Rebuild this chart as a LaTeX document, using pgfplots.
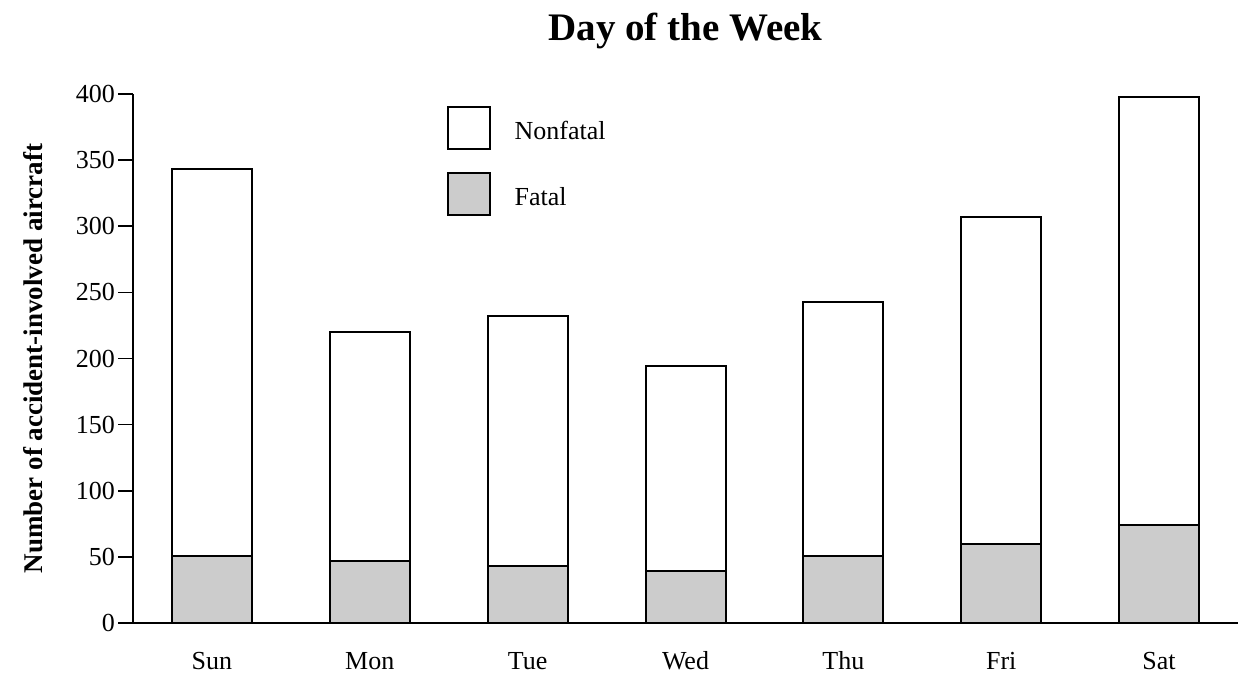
\documentclass[border=0pt]{standalone}
\usepackage{fontspec}
\setmainfont{Liberation Serif}
\usepackage{pgfplots}
\pgfplotsset{compat=1.18}
\definecolor{fatalgray}{HTML}{CCCCCC}
\begin{document}
\begin{tikzpicture}
\begin{axis}[
  scale only axis,
  width=552.5pt, height=264.5pt,
  ybar stacked, bar width=40pt,
  xmin=-0.5, xmax=6.5, ymin=0, ymax=400,
  axis lines*=left,
  axis line style={line width=0.8pt},
  xtick={0,1,2,3,4,5,6},
  xticklabels={Sun,Mon,Tue,Wed,Thu,Fri,Sat},
  x tick style={draw=none},
  ytick={0,50,100,150,200,250,300,350,400},
  y tick style={line width=0.8pt, black},
  tick align=outside, major tick length=7.5pt,
  /pgf/number format/assume math mode=true,
  tick label style={font=\fontsize{13}{15}\selectfont},
  xticklabel style={anchor=base, yshift=-16pt},
  yticklabel style={xshift=2pt},
  ylabel={Number of accident-involved aircraft},
  ylabel style={font=\fontsize{13.5}{15}\selectfont\bfseries, at={(rel axis cs:0,0.5)}, anchor=center, yshift=50pt},
  title={Day of the Week},
  title style={font=\fontsize{19.5}{23}\selectfont\bfseries, at={(0.5,1)}, anchor=base, yshift=20.5pt},
  legend style={draw=none, fill=none, at={(rel axis cs:0.2839,0.978)}, anchor=north west,
    inner sep=0pt, outer sep=0pt, row sep=11.3pt, column sep=12pt,
    font=\fontsize{13}{15}\selectfont, nodes={inner sep=0pt, anchor=west}},
  legend cell align=left,
  reverse legend,
  legend image code/.code={\draw[#1, line width=1pt] (0pt,-8.5pt) rectangle (21pt,12.5pt);},
]
\addplot[draw=black, line width=1pt, fill=fatalgray] coordinates {(0,51) (1,47) (2,43) (3,39) (4,51) (5,60) (6,74)};
\addlegendentry{Fatal}
\addplot[draw=black, line width=1pt, fill=white] coordinates {(0,292) (1,173) (2,189) (3,155) (4,192) (5,247) (6,324)};
\addlegendentry{Nonfatal}
\coordinate (SW) at (rel axis cs:0,0);
\coordinate (NE) at (rel axis cs:1,1);
\end{axis}
\pgfresetboundingbox
\path[use as bounding box] ([xshift=-66.5pt,yshift=-26.5pt]SW) rectangle ([xshift=2.5pt,yshift=47pt]NE);
\end{tikzpicture}
\end{document}
